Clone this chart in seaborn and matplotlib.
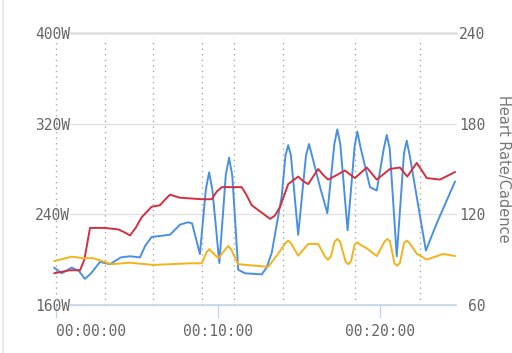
import matplotlib
matplotlib.use("Agg")
import matplotlib.pyplot as plt
import seaborn as sns
from matplotlib.ticker import FuncFormatter
from matplotlib.lines import Line2D

# power (left axis, W)
power_t = [-7, 21, 58, 85, 107, 130, 163, 200, 240, 274, 311, 330, 354, 422,
           460, 490, 504, 533, 555, 567, 579, 605, 629, 641, 653, 675, 700,
           762, 780, 799, 836, 850, 860, 870, 897, 926, 937, 948, 978, 1005,
           1031, 1042, 1053, 1080, 1106, 1116, 1127, 1163, 1188, 1214, 1225,
           1236, 1262, 1289, 1299, 1310, 1370, 1410, 1478]
power_w = [193, 188, 193, 190, 183, 188, 198, 196, 202, 203, 202, 212, 220,
           222, 231, 233, 232, 205, 262, 277, 262, 197, 275, 290, 274, 191,
           188, 187, 193, 206, 256, 292, 301, 292, 222, 292, 302, 292, 264,
           241, 302, 315, 302, 226, 300, 313, 300, 264, 261, 298, 310, 298,
           203, 294, 305, 292, 208, 232, 269]

# heart rate (right axis, bpm)
hr_t = [-7, 52, 89, 105, 126, 181, 231, 255, 274, 295, 317, 354, 385, 400,
        422, 459, 540, 577, 595, 614, 688, 705, 725, 793, 810, 830, 860,
        897, 915, 934, 971, 990, 1008, 1040, 1070, 1107, 1151, 1188, 1237,
        1274, 1301, 1336, 1355, 1373, 1422, 1478]
hr_bpm = [81, 83, 83, 90, 111, 111, 110, 108, 106, 111, 118, 125, 126, 129,
          133, 131, 130, 130, 135, 138, 138, 133, 126, 117, 119, 125, 140,
          145, 142, 140, 150, 146, 143, 146, 149, 144, 151, 143, 150,
          151, 145, 154, 149, 144, 143, 148]

# cadence (right axis, rpm)
cad_t = [-7, 58, 101, 138, 206, 274, 360, 496, 540, 558, 568, 578, 601, 628,
         638, 648, 675, 737, 786, 823, 850, 860, 870, 897, 934, 971, 998,
         1008, 1018, 1032, 1042, 1052, 1073, 1083, 1093, 1106, 1116, 1126,
         1151, 1188, 1217, 1227, 1237, 1254, 1264, 1274, 1289, 1299, 1309,
         1336, 1373, 1434, 1478]
cad_rpm = [89, 92, 91, 91, 87, 88, 86.5, 87.6, 87.6, 95, 97, 95, 91, 97,
           99, 97, 87, 86, 85.3, 94, 101, 102.6, 101, 92.6, 100.4, 100.4,
           91.5, 90, 92, 102, 103.7, 102, 88.5, 87, 89, 100, 101.5, 100,
           97.5, 92.4, 102, 103.7, 102, 87.5, 86, 88, 101, 102.6, 101,
           94, 90, 93.8, 92.4]

# lap markers (seconds)
laps = [0, 181, 359, 541, 659, 841, 1107, 1348]

power_ticks = [160, 240, 320, 400]
right_ticks = [60, 120, 180, 240]
time_ticks = [0, 600, 1200]

sns.set_style("white")
plt.rcParams["font.family"] = ["DejaVu Sans Mono"]

fig = plt.figure(figsize=(5.12, 3.53), dpi=100)
ax = fig.add_axes([50 / 512, 48 / 353, 406 / 512, 272 / 353])
ax2 = ax.twinx()

x0, x1 = -22.2, 1481.5
grid_start = (70 - 50) / 406

for v in power_ticks:
    lw = 2 if v == power_ticks[-1] else 1
    ax.axhline(v, xmin=grid_start, xmax=1, color="#e2e2e2", lw=lw, zorder=0)

for t in laps:
    ax.axvline(t, ymin=0, ymax=0.98, color="#a8a8a8", lw=1, ls=(0, (1, 3)), zorder=1)

blue, red, orange = "#4a90e2", "#d3303f", "#f4b21c"
sns.lineplot(x=power_t, y=power_w, ax=ax, color=blue, lw=1.4, zorder=3)
sns.lineplot(x=hr_t, y=hr_bpm, ax=ax2, color=red, lw=1.4, zorder=3)
sns.lineplot(x=cad_t, y=cad_rpm, ax=ax2, color=orange, lw=1.4, zorder=3)
for a in (ax, ax2):
    for ln in a.get_lines():
        ln.set_clip_on(False)
        ln.set_solid_joinstyle("round")

ax.set_xlim(x0, x1)
ax.set_ylim(160, 400)
ax2.set_ylim(60, 240)

for a in (ax, ax2):
    for s in a.spines.values():
        s.set_visible(False)
ax.spines["bottom"].set_visible(True)
ax.spines["bottom"].set_color("#c6d6ea")
ax.spines["bottom"].set_linewidth(1.2)
ax.spines["bottom"].set_bounds(x0 + (x1 - x0) * grid_start, x1)

ax.set_yticks(power_ticks)
ax.set_yticklabels([f"{v}W" for v in power_ticks])
ax.tick_params(axis="y", length=0, pad=-14.4, labelsize=10.5, labelcolor="#666666")
ax2.set_yticks(right_ticks)
ax2.set_yticklabels([str(v) for v in right_ticks], ha="right")
ax2.tick_params(axis="y", length=0, pad=21, labelsize=10.5, labelcolor="#666666")

ax.set_xticks(time_ticks)
ax.xaxis.set_major_formatter(FuncFormatter(
    lambda s, _: f"{int(s) // 3600:02d}:{int(s) % 3600 // 60:02d}:{int(s) % 60:02d}"))
ax.tick_params(axis="x", length=9, width=1, color="#c6d6ea", pad=5,
               labelsize=10.5, labelcolor="#666666", bottom=True)
ax.get_xticklabels()[0].set_ha("left")
ax.set_xlabel("")
ax.set_ylabel("")

ax2.set_ylabel("Heart Rate/Cadence", rotation=270, va="center", ha="center",
               color="#777777", fontsize=10.5, family="DejaVu Sans")
ax2.yaxis.set_label_coords((503 - 50) / 406, 0.5)

fig.add_artist(Line2D([3 / 512, 3 / 512], [0, 1], color="#e8e8e8", lw=1.5))

fig.savefig("out.png", dpi=100)
